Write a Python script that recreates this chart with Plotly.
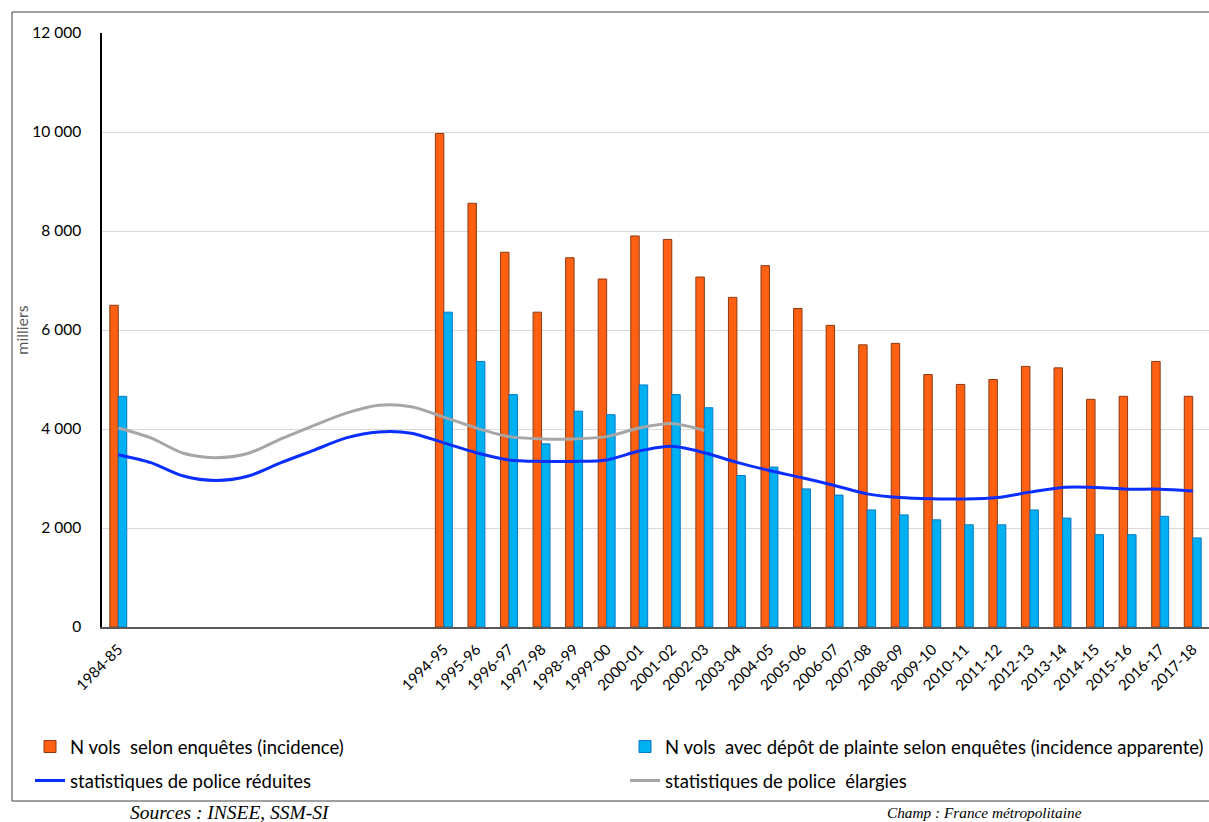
import plotly.graph_objects as go

years = ["1984-85", "1985-86", "1986-87", "1987-88", "1988-89", "1989-90", "1990-91",
         "1991-92", "1992-93", "1993-94", "1994-95", "1995-96", "1996-97", "1997-98",
         "1998-99", "1999-00", "2000-01", "2001-02", "2002-03", "2003-04", "2004-05",
         "2005-06", "2006-07", "2007-08", "2008-09", "2009-10", "2010-11", "2011-12",
         "2012-13", "2013-14", "2014-15", "2015-16", "2016-17", "2017-18"]

labeled_years = ["1984-85", "1994-95", "1995-96", "1996-97", "1997-98", "1998-99", "1999-00",
                 "2000-01", "2001-02", "2002-03", "2003-04", "2004-05", "2005-06", "2006-07",
                 "2007-08", "2008-09", "2009-10", "2010-11", "2011-12", "2012-13", "2013-14",
                 "2014-15", "2015-16", "2016-17", "2017-18"]

incidence = [6500, None, None, None, None, None, None, None, None, None,
             9970, 8560, 7570, 6360, 7460, 7030, 7900, 7830, 7070, 6660, 7300,
             6435, 6095, 5700, 5730, 5100, 4900, 5000, 5265, 5235, 4600, 4660, 5365, 4660]

incidence_apparente = [4660, None, None, None, None, None, None, None, None, None,
                       6360, 5365, 4695, 3700, 4360, 4290, 4890, 4695, 4430, 3060, 3230,
                       2790, 2665, 2365, 2265, 2165, 2065, 2065, 2365, 2200, 1865, 1865, 2235, 1800]

police_reduites = [3480, 3320, 3050, 2960, 3050, 3320, 3570, 3820, 3940, 3915,
                   3720, 3520, 3375, 3345, 3345, 3375, 3555, 3650, 3520, 3325, 3160,
                   3015, 2860, 2690, 2615, 2590, 2585, 2615, 2725, 2820, 2820, 2785, 2785, 2750]

police_elargies = [4020, 3820, 3510, 3420, 3510, 3800, 4070, 4320, 4480, 4450,
                   4240, 4020, 3846, 3800, 3800, 3846, 4020, 4110, 3970,
                   None, None, None, None, None, None, None, None, None, None, None, None, None, None, None]

font_main = "Lato, 'Open Sans', sans-serif"

fig = go.Figure()
fig.add_trace(go.Bar(x=years, y=incidence, name="N vols  selon enquêtes (incidence)",
                     legend="legend",
                     marker=dict(color="#FF6011", line=dict(color="#8C3A10", width=1))))
fig.add_trace(go.Bar(x=years, y=incidence_apparente,
                     name="N vols  avec dépôt de plainte selon enquêtes (incidence apparente)",
                     legend="legend2",
                     marker=dict(color="#00B0F0", line=dict(color="#0A78C8", width=1))))
fig.add_trace(go.Scatter(x=years, y=police_reduites, name="statistiques de police réduites",
                         legend="legend3", mode="lines",
                         line=dict(color="#0A2EFF", width=3, shape="spline", smoothing=0.8)))
fig.add_trace(go.Scatter(x=years, y=police_elargies, name="statistiques de police  élargies",
                         legend="legend4", mode="lines",
                         line=dict(color="#A6A6A6", width=3, shape="spline", smoothing=0.8)))

L, R, T, B = 102, 0, 33, 195
W, H = 1209, 822
pw = W - L - R
ph = H - T - B

def px_x(x):
    return (x - L) / pw

def px_y(y):
    return (H - B - y) / ph

def leg(xp, yp):
    return dict(orientation="v", x=px_x(xp), y=px_y(yp), xanchor="left", yanchor="middle",
                font=dict(size=18.5, color="#000000"), bgcolor="rgba(0,0,0,0)",
                itemwidth=30, borderwidth=0)

fig.update_layout(
    width=W, height=H,
    margin=dict(l=L, r=R, t=T, b=B, pad=0, autoexpand=False),
    paper_bgcolor="white", plot_bgcolor="white",
    barmode="group", bargap=0.48, bargroupgap=0,
    separators=", ",
    font=dict(family=font_main, size=14, color="#000000"),
    showlegend=True,
    legend=leg(30, 747),
    legend2=leg(625, 747),
    legend3=leg(30, 781),
    legend4=leg(625, 781),
    xaxis=dict(type="category", categoryorder="array", categoryarray=years,
               tickmode="array", tickvals=labeled_years, ticktext=labeled_years,
               tickangle=-45, tickfont=dict(size=15, color="#000000"),
               ticklabelstandoff=6,
               showline=True, linecolor="#595959", linewidth=1.5, showgrid=False,
               ticks="", range=[-0.5, 33.5], fixedrange=True),
    yaxis=dict(range=[0, 12000], tickvals=[0, 2000, 4000, 6000, 8000, 10000, 12000],
               tickformat=",d", tickfont=dict(size=15.5, color="#000000"),
               showline=True, linecolor="#000000", linewidth=1.5,
               showgrid=True, gridcolor="#D9D9D9", gridwidth=1, ticks="",
               ticklabelstandoff=16, zeroline=False,
               title=dict(text="milliers", font=dict(size=16, color="#595959"), standoff=0)),
    shapes=[dict(type="rect", xref="paper", yref="paper",
                 x0=px_x(12), x1=px_x(1240), y0=px_y(801), y1=px_y(12),
                 line=dict(color="#404040", width=1), fillcolor="rgba(0,0,0,0)", layer="below")],
    annotations=[
        dict(text="<i>Sources : INSEE, SSM-SI</i>", xref="paper", yref="paper",
             x=px_x(128), y=px_y(812), xanchor="left", yanchor="middle", showarrow=False,
             font=dict(family="Liberation Serif, serif", size=19.5, color="#000000")),
        dict(text="<i>Champ : France métropolitaine</i>", xref="paper", yref="paper",
             x=px_x(885), y=px_y(812), xanchor="left", yanchor="middle", showarrow=False,
             font=dict(family="Liberation Serif, serif", size=15.3, color="#000000")),
    ],
)

fig.write_html("out.html")
